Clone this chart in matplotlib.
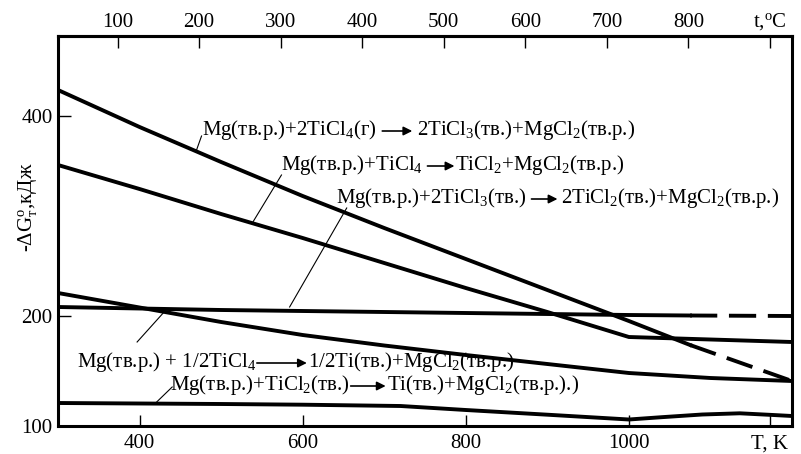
import matplotlib
matplotlib.use("Agg")
import matplotlib.pyplot as plt

plt.rcParams['font.family'] = ['Liberation Serif', 'DejaVu Serif']
plt.rcParams['mathtext.fontset'] = 'custom'
plt.rcParams['mathtext.rm'] = 'Liberation Serif'
plt.rcParams['mathtext.it'] = 'Liberation Serif:italic'
plt.rcParams['mathtext.bf'] = 'Liberation Serif:bold'

# --- data (T in K, -dG in kJ) ---
T_a = [300, 400, 500, 600, 700, 800, 900, 1000, 1075]
T_b = [1075, 1200]
g_ticl4_gas = [426, 389, 354, 320, 288, 257, 226, 195, 171]
g_ticl4_gas_ext = [171, 135]

g_ticl3 = [209, 207.5, 206, 205, 204, 203, 202, 201, 200.5]
g_ticl3_ext = [200.5, 200]

T_c = [300, 400, 500, 600, 700, 800, 900, 1000, 1100, 1200]
g_ticl4_ticl2 = [351, 327, 302, 278, 253, 228, 204, 179, 176.5, 174]
g_half_ticl4 = [223, 208.5, 194, 181, 170.5, 161, 152, 143, 138, 135]

T_d = [300, 400, 500, 600, 720, 800, 900, 1000, 1040, 1090, 1136, 1177, 1200]
g_ticl2 = [113, 112.5, 112, 111.3, 110, 106, 101.3, 96.5, 98.8, 101.5, 102.7, 101, 100]

x_ticks = [400, 600, 800, 1000, 1173]
x_labels = ['400', '600', '800', '1000', 'T, K']
c_ticks = [100, 200, 300, 400, 500, 600, 700, 800, 900]
c_labels = ['100', '200', '300', '400', '500', '600', '700', '800', r't,$^{\mathrm{o}}$C']
y_ticks = [90, 200, 400]
y_labels = ['100', '200', '400']

# reaction: left side, right side
reactions = [
    (r'Mg(тв.р.)+2TiCl$_4$(г)', r'2TiCl$_3$(тв.)+MgCl$_2$(тв.р.)'),
    (r'Mg(тв.р.)+TiCl$_4$', r'TiCl$_2$+MgCl$_2$(тв.р.)'),
    (r'Mg(тв.р.)+2TiCl$_3$(тв.)', r'2TiCl$_2$(тв.)+MgCl$_2$(тв.р.)'),
    (r'Mg(тв.р.) + 1/2TiCl$_4$', r'1/2Ti(тв.)+MgCl$_2$(тв.р.)'),
    (r'Mg(тв.р.)+TiCl$_2$(тв.)', r'Ti(тв.)+MgCl$_2$(тв.р.).)'),
]

fig = plt.figure(figsize=(8.01, 4.54), dpi=100)
ax = fig.add_axes([58 / 801, 28 / 454, 734 / 801, 390 / 454])

lw = 2.8
dash = (0, (7, 3))
ax.plot(T_a, g_ticl4_gas, color='black', lw=lw)
ax.plot(T_b, g_ticl4_gas_ext, color='black', lw=lw, linestyle=dash)
ax.plot(T_a, g_ticl3, color='black', lw=lw)
ax.plot(T_b, g_ticl3_ext, color='black', lw=lw, linestyle=dash)
ax.plot(T_c, g_ticl4_ticl2, color='black', lw=lw)
ax.plot(T_c, g_half_ticl4, color='black', lw=lw)
ax.plot(T_d, g_ticl2, color='black', lw=lw)

ax.set_xlim(300, 1200)
ax.set_ylim(90, 480)

fs = 15
renderer = fig.canvas.get_renderer()


def reaction_label(x, y, left, right, gap1, alen, gap2):
    t = ax.text(x, y, left, fontsize=fs, va='center', ha='left')
    bb = t.get_window_extent(renderer)
    yd = ax.transData.transform((x, y))[1] - 1
    x0 = bb.x1 + gap1
    x1 = x0 + alen
    ax.annotate('', xy=(x1, yd), xytext=(x0, yd), xycoords='figure pixels',
                textcoords='figure pixels',
                arrowprops=dict(arrowstyle='-|>', color='black', lw=1.2,
                                mutation_scale=13, shrinkA=0, shrinkB=0))
    xr, yr = ax.transData.inverted().transform((x1 + gap2, yd + 1))
    ax.text(xr, yr, right, fontsize=fs, va='center', ha='left')


reaction_label(476, 386, *reactions[0], 6, 30, 5)
ax.plot([476, 469], [380, 364], color='black', lw=0.8)
reaction_label(574, 351, *reactions[1], 4, 27, 1)
ax.plot([574, 539], [341, 294], color='black', lw=0.8)
reaction_label(641, 318, *reactions[2], 5, 26, 4)
ax.plot([654, 584], [308, 209], color='black', lw=0.8)
reaction_label(323, 154, *reactions[3], 1, 50, 1)
ax.plot([397, 429], [174, 203], color='black', lw=0.8)
reaction_label(437, 131, *reactions[4], 1, 35, 1)
ax.plot([421, 440], [114, 129], color='black', lw=0.8)

for s in ax.spines.values():
    s.set_linewidth(2.2)

ax.set_xticks(x_ticks, x_labels)
ax.set_yticks(y_ticks, y_labels)
ax.tick_params(axis='x', direction='in', length=8, width=1, labelsize=15, pad=6)
ax.tick_params(axis='y', direction='in', length=9.5, width=1, labelsize=15, pad=4)

top = ax.secondary_xaxis('top', functions=(lambda k: k - 273, lambda c: c + 273))
top.set_xticks(c_ticks, c_labels)
top.tick_params(direction='in', length=8.5, width=1, labelsize=15, pad=3)
top.spines['top'].set_linewidth(2.2)

ax.set_ylabel(r'-$\Delta$G$_{\mathrm{т}}^{\mathrm{о}}$,кДж', fontsize=15)
ax.yaxis.set_label_coords(-0.026, 0.56)

fig.savefig('out.png', dpi=100)
